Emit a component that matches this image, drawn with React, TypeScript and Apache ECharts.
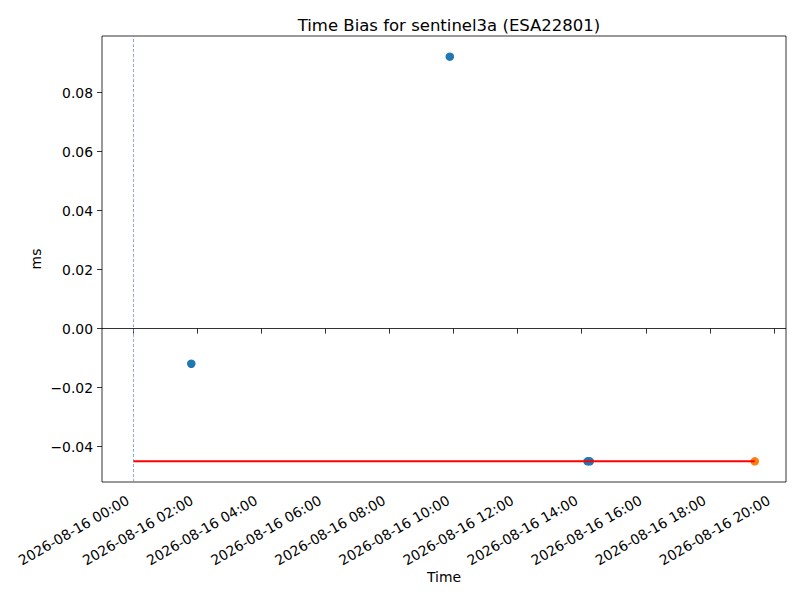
import React, { useEffect, useRef } from "react";
import * as echarts from "echarts";

// times are UTC, "YYYY-MM-DD HH:MM"
const blueTimes = ["2026-08-16 01:49", "2026-08-16 09:53", "2026-08-16 14:11", "2026-08-16 14:15"];
const blueValues = [-0.0119, 0.0922, -0.045, -0.045];
const orangeTimes = ["2026-08-16 19:24"];
const orangeValues = [-0.045];
const fitTimes = ["2026-08-16 00:00", "2026-08-16 19:24"];
const fitValues = [-0.045, -0.045];
const xTickTimes = [
  "2026-08-16 00:00", "2026-08-16 02:00", "2026-08-16 04:00", "2026-08-16 06:00",
  "2026-08-16 08:00", "2026-08-16 10:00", "2026-08-16 12:00", "2026-08-16 14:00",
  "2026-08-16 16:00", "2026-08-16 18:00", "2026-08-16 20:00",
];
const yTicks = [-0.04, -0.02, 0, 0.02, 0.04, 0.06, 0.08];
const refTime = "2026-08-16 00:00";

const toMs = (s: string) => {
  const [d, t] = s.split(" ");
  const [y, mo, da] = d.split("-").map(Number);
  const [h, mi] = t.split(":").map(Number);
  return Date.UTC(y, mo - 1, da, h, mi);
};
const pad = (n: number) => String(n).padStart(2, "0");
const fmtTime = (v: number) => {
  const d = new Date(v);
  return `${d.getUTCFullYear()}-${pad(d.getUTCMonth() + 1)}-${pad(d.getUTCDate())} ${pad(d.getUTCHours())}:${pad(d.getUTCMinutes())}`;
};
const fmtY = (v: number) => {
  const s = Math.abs(v).toFixed(2);
  return v < -1e-9 ? "\u2212" + s : s;
};

const HOUR = 3600 * 1000;
const FONT = "DejaVu Sans";

const App = () => {
  const chartRef = useRef<HTMLDivElement>(null);

  useEffect(() => {
    if (!chartRef.current) return;
    const chart = echarts.init(chartRef.current, null, { renderer: "svg" });
    const t0 = toMs(refTime);
    const xMin = t0 - 0.97 * HOUR;
    const xMax = t0 + 20.375 * HOUR;

    chart.setOption({
      animation: false,
      backgroundColor: "#fff",
      textStyle: { fontFamily: FONT },
      title: {
        text: "Time Bias for sentinel3a (ESA22801)",
        left: 444,
        top: 12,
        textAlign: "center",
        textStyle: { fontFamily: FONT, fontSize: 16.5, fontWeight: "normal", color: "#000" },
      },
      grid: {
        left: 102,
        right: 14,
        top: 36,
        bottom: 118,
        show: true,
        borderColor: "#000",
        borderWidth: 0.8,
      },
      xAxis: {
        type: "value",
        min: xMin,
        max: xMax,
        name: "Time",
        nameLocation: "middle",
        nameGap: 88,
        nameMoveOverlap: false,
        nameTextStyle: { fontFamily: FONT, fontSize: 13.9, color: "#000" },
        splitLine: { show: false },
        axisLine: { show: false },
        axisTick: {
          show: true,
          length: 5,
          lineStyle: { color: "#000", width: 0.8 },
          customValues: xTickTimes.map(toMs),
        },
        axisLabel: {
          rotate: 30,
          margin: 14,
          padding: [0, 6, 0, 0],
          fontFamily: FONT,
          fontSize: 13.9,
          color: "#000",
          customValues: xTickTimes.map(toMs),
          formatter: (v: number) => fmtTime(v),
        },
      },
      yAxis: {
        type: "value",
        min: -0.052,
        max: 0.0992,
        name: "ms",
        nameLocation: "middle",
        nameGap: 59,
        nameMoveOverlap: false,
        nameTextStyle: { fontFamily: FONT, fontSize: 13.9, color: "#000" },
        splitLine: { show: false },
        axisLine: { show: false },
        axisTick: {
          show: true,
          length: 5,
          lineStyle: { color: "#000", width: 0.8 },
          customValues: yTicks,
        },
        axisLabel: {
          margin: 9,
          fontFamily: FONT,
          fontSize: 13.9,
          color: "#000",
          customValues: yTicks,
          formatter: (v: number) => fmtY(v),
        },
      },
      series: [
        {
          type: "line",
          data: fitTimes.map((t, i) => [toMs(t), fitValues[i]]),
          showSymbol: false,
          lineStyle: { color: "#ff0000", width: 2 },
          silent: true,
          markLine: {
            silent: true,
            symbol: "none",
            label: { show: false },
            data: [
              { yAxis: 0, lineStyle: { color: "#000", width: 0.8, type: "solid" } },
              { xAxis: t0, lineStyle: { color: "#5a8cc0", width: 0.7, type: [3, 2] } },
            ],
          },
        },
        {
          type: "scatter",
          data: blueTimes.map((t, i) => [toMs(t), blueValues[i]]),
          symbolSize: 8.5,
          itemStyle: { color: "#1f77b4", opacity: 1 },
        },
        {
          type: "scatter",
          data: orangeTimes.map((t, i) => [toMs(t), orangeValues[i]]),
          symbolSize: 8.5,
          itemStyle: { color: "#ff7f0e", opacity: 1 },
        },
      ],
    });

    return () => chart.dispose();
  }, []);

  return <div ref={chartRef} style={{ width: 800, height: 600, margin: -8 }} />;
};

export default App;
